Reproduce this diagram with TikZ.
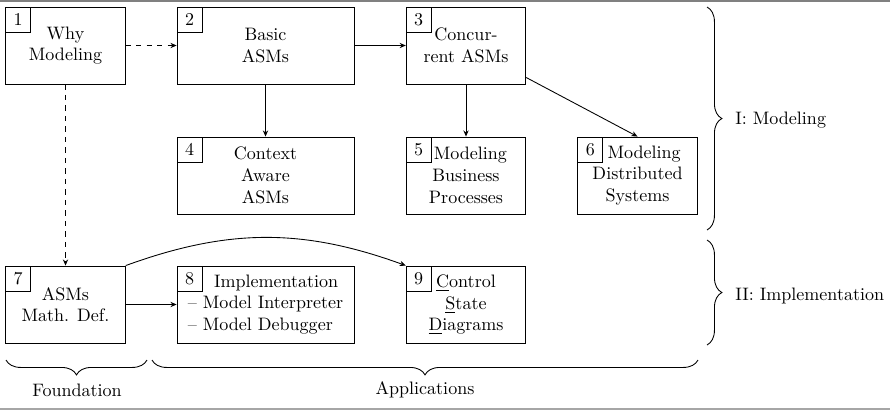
\documentclass[tikz,border=0pt]{standalone}
\usetikzlibrary{arrows.meta,decorations.pathreplacing}
\begin{document}
\begin{tikzpicture}[x=0.5714pt,y=-0.5714pt,
  every node/.append style={font=\fontsize{10.3pt}{12.4pt}\selectfont},
  box/.style={draw, line width=0.5pt, inner sep=0pt, align=center, minimum height=44pt},
  small/.style={box, minimum width=68.3pt},
  wide/.style={box, minimum width=101.1pt},
  numbox/.style={draw, line width=0.5pt, inner sep=0pt, minimum size=14.3pt, anchor=north west},
  arr/.style={line width=0.5pt, -{Stealth[length=3.5pt,width=3pt]}},
  darr/.style={arr, dashed},
  brc/.style={decorate, decoration={brace, amplitude=8.5pt}, line width=0.5pt},
  lab/.style={inner sep=0pt}]
\useasboundingbox (0,0) rectangle (890,410);
\draw[gray, line width=1.1pt] (0,1) -- (890,1);
\draw[gray!70, line width=0.6pt] (0,409) -- (890,409);
% boxes
\node[small] (b1) at (65.5,45.5) {Why\\Modeling};
\node[wide]  (b2) at (265.5,45.5) {Basic\\ASMs};
\node[small] (b3) at (466,45.5) {Concur-\\rent ASMs};
\node[wide]  (b4) at (265.5,175.5) {Context\\Aware\\ASMs};
\node[small] (b5) at (466,175.5) {\hspace*{5pt}Modeling\\Business\\Processes};
\node[small] (b6) at (637.5,175.5) {\hspace*{7.5pt}Modeling\\Distributed\\Systems};
\node[small] (b7) at (65.5,304.5) {ASMs\\Math. Def.};
\node[wide, align=left]  (b8) at (265.5,304.5) {\hspace*{15pt}Implementation\\-- Model Interpreter\hspace*{3.4pt}\\-- Model Debugger};
\node[small] (b9) at (466,304.5) {\underline{C}ontrol\\\underline{S}tate\\\underline{D}iagrams};
% number boxes
\foreach \i in {1,...,9} {\node[numbox] (n\i) at (b\i.north west) {\i};}
% connectors
\draw[darr] (b1) -- (b2);
\draw[arr] (b2) -- (b3);
\draw[arr] (b2) -- (b4);
\draw[arr] (b3) -- (b5);
\draw[arr] (b3.-28) -- (b6.north);
\draw[darr] (b1) -- (b7);
\draw[arr] (b7) -- (b8);
\draw[arr] (b7.north east) to[bend left=20] (b9.north west);
% braces
\draw[brc] (707,7) -- (707,230);
\draw[brc] (707,240) -- (707,345);
\draw[brc] (147,360) -- (6,360);
\draw[brc] (698,360) -- (152,360);
\node[lab, anchor=west] (l1) at (735,120) {I: Modeling};
\node[lab, anchor=west] (l2) at (735,296) {II: Implementation};
\node[lab] (l3) at (77,390) {Foundation};
\node[lab] (l4) at (425,390) {Applications};
\end{tikzpicture}
\end{document}
